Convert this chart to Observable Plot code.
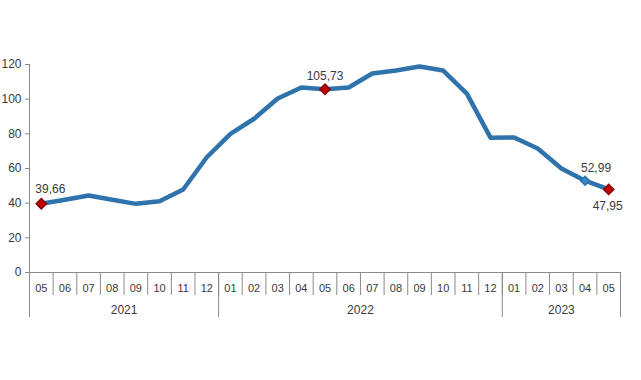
<!DOCTYPE html>
<html>
<head>
<meta charset="utf-8">
<script src="https://cdn.jsdelivr.net/npm/d3@7"></script>
<script src="https://cdn.jsdelivr.net/npm/@observablehq/plot@0.6"></script>
<style>
  html, body { margin: 0; padding: 0; background: #fff; }
  #chart svg { display: block; }
</style>
</head>
<body>
<div id="chart"></div>
<script>
const months = ["05","06","07","08","09","10","11","12",
  "01","02","03","04","05","06","07","08","09","10","11","12",
  "01","02","03","04","05"];
const values = [39.66, 42.0, 44.4, 42.0, 39.6, 41.1, 47.9, 66.5,
  80.0, 88.7, 100.4, 106.7, 105.73, 106.7, 114.8, 116.5, 118.8, 116.5, 103.2, 77.8,
  77.9, 71.5, 60.0, 52.99, 47.95];
const yearLabels = ["2021", "2022", "2023"];
const yearStarts = [0, 8, 20];
const yearEnds = [8, 20, 25];
const yTicks = [0, 20, 40, 60, 80, 100, 120];
const redMarkers = [0, 12, 24];
const blueMarkers = [23];

const data = values.map((v, i) => ({i, v, m: months[i]}));
const fmt = v => v.toFixed(2).replace(".", ",");
const monthDividers = d3.range(months.length + 1).map(i => i - 0.5);
const yearDividers = [...yearStarts, yearEnds[yearEnds.length - 1]].map(i => i - 0.5);
const yearCenters = yearStarts.map((s, k) => (s + yearEnds[k]) / 2 - 0.5);

const axisGray = "#8a8a8a";
const textCol = "#3a3a3a";

const chart = Plot.plot({
  width: 641,
  height: 380,
  marginLeft: 29,
  marginRight: 21,
  marginTop: 64,
  marginBottom: 108,
  style: {fontFamily: "'Liberation Sans', Arial, sans-serif", fontSize: "11px", color: textCol, background: "#fff"},
  x: {type: "linear", domain: [-0.5, months.length - 0.5], axis: null},
  y: {domain: [0, 120], axis: null},
  marks: [
    Plot.axisY({ticks: yTicks, tickSize: 4, tickPadding: 4, stroke: axisGray, fontSize: 12, label: null}),
    Plot.ruleX([-0.5], {stroke: axisGray}),
    Plot.ruleY([0], {stroke: axisGray}),
    Plot.axisX({ticks: monthDividers, tickSize: 23, tickFormat: () => "", stroke: axisGray, label: null}),
    Plot.axisX({ticks: yearDividers, tickSize: 45, tickFormat: () => "", stroke: axisGray, label: null}),
    Plot.axisX({ticks: d3.range(months.length), tickSize: 0, tickPadding: 12, tickFormat: i => months[i], label: null}),
    Plot.axisX({ticks: yearCenters, tickSize: 0, tickPadding: 33, tickFormat: (d, k) => yearLabels[k], fontSize: 12, label: null}),
    Plot.line(data, {x: "i", y: "v", stroke: "#2f73ac", strokeWidth: 4.5, strokeLinejoin: "round"}),
    Plot.dot(data.filter(d => blueMarkers.includes(d.i)), {x: "i", y: "v", symbol: "diamond2", r: 4, fill: "#3b86c6", stroke: "#2f73ac"}),
    Plot.dot(data.filter(d => redMarkers.includes(d.i)), {x: "i", y: "v", symbol: "diamond2", r: 4.6, fill: "#c00000", stroke: "#8b0000"}),
    Plot.text(data.filter(d => d.i === 0), {x: "i", y: "v", text: d => fmt(d.v), dx: 9, dy: -15, fontSize: 12, fill: textCol}),
    Plot.text(data.filter(d => d.i === 12), {x: "i", y: "v", text: d => fmt(d.v), dx: 0, dy: -13, fontSize: 12, fill: textCol}),
    Plot.text(data.filter(d => d.i === 23), {x: "i", y: "v", text: d => fmt(d.v), dx: 11, dy: -12, fontSize: 12, fill: textCol}),
    Plot.text(data.filter(d => d.i === 24), {x: "i", y: "v", text: d => fmt(d.v), dx: -1, dy: 17, fontSize: 12, fill: textCol})
  ]
});
document.getElementById("chart").appendChild(chart);
</script>
</body>
</html>
